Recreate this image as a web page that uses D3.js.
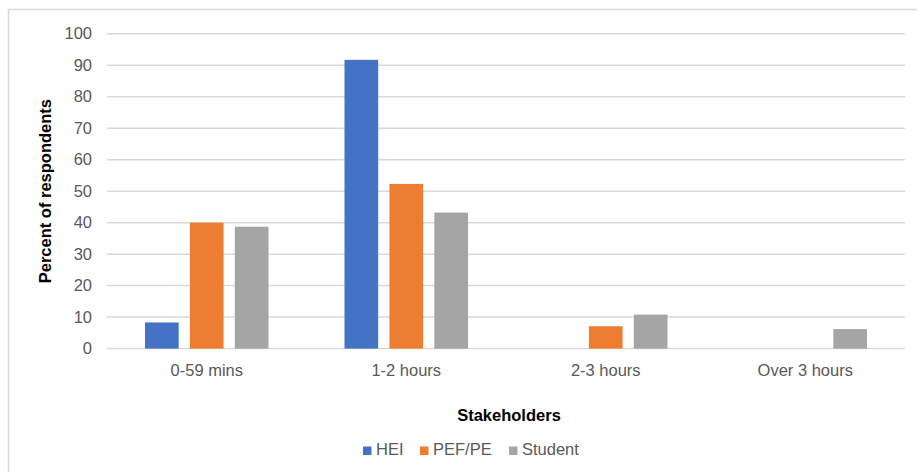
<!DOCTYPE html>
<html>
<head>
<meta charset="utf-8">
<script src="https://cdn.jsdelivr.net/npm/d3@7"></script>
<style>
  body { margin: 0; background: #fff; }
  svg text { font-family: 'Liberation Sans', Arial, sans-serif; }
</style>
</head>
<body>
<figure id="bar" style="margin:0"></figure>
<script>
// data
const categories = ['0-59 mins', '1-2 hours', '2-3 hours', 'Over 3 hours'];
const seriesNames = ['HEI', 'PEF/PE', 'Student'];
const hei = [8.3, 91.7, 0, 0];
const pef = [40, 52.3, 7.1, 0];
const student = [38.7, 43.2, 10.8, 6.2];
const yTicks = [0, 10, 20, 30, 40, 50, 60, 70, 80, 90, 100];
const colors = ['#4472C4', '#ED7D31', '#A5A5A5'];

const width = 917;
const height = 472;
const plot = { left: 107, right: 905, top: 33.7, bottom: 348.6 };
const textColor = '#595959';

const svg = d3
  .select('figure#bar')
  .append('svg')
  .attr('width', width)
  .attr('height', height);

// chart area border (only top and left edges are inside the frame)
svg.append('rect')
  .attr('x', 8.5)
  .attr('y', 9.5)
  .attr('width', width + 10)
  .attr('height', height + 10)
  .attr('fill', 'none')
  .attr('stroke', '#D9D9D9')
  .attr('stroke-width', 1.5);

const x0 = d3.scaleBand()
  .domain(categories)
  .range([plot.left, plot.right])
  .paddingInner(0)
  .paddingOuter(0);

const x1 = d3.scaleBand()
  .domain(seriesNames)
  .range([38, x0.bandwidth() - 38])
  .paddingInner(0.25);

const y = d3.scaleLinear()
  .domain([0, 100])
  .range([plot.bottom, plot.top]);

// gridlines
svg.append('g')
  .attr('class', 'grid')
  .selectAll('line')
  .data(yTicks)
  .enter()
  .append('line')
  .attr('x1', plot.left)
  .attr('x2', plot.right)
  .attr('y1', (d) => y(d))
  .attr('y2', (d) => y(d))
  .attr('stroke', '#D9D9D9')
  .attr('stroke-width', 1.5);

// y axis labels
const yAxis = svg.append('g')
  .attr('class', 'y-axis')
  .attr('transform', 'translate(' + (plot.left - 15) + ',0)')
  .call(d3.axisLeft(y).tickValues(yTicks).tickSize(0).tickPadding(0));
yAxis.select('.domain').remove();
yAxis.selectAll('text')
  .attr('fill', textColor)
  .style('font-size', '16.5px')
  .style('font-family', "'Liberation Sans', Arial, sans-serif");

// bars
const table = seriesNames.map((name, i) => ({
  name: name,
  values: [hei, pef, student][i]
}));

const groups = svg.append('g')
  .selectAll('g')
  .data(categories)
  .enter()
  .append('g')
  .attr('transform', (d) => 'translate(' + x0(d) + ',0)');

groups.selectAll('rect')
  .data((d, ci) => table.map((s, si) => ({ name: s.name, value: s.values[ci], si: si })))
  .enter()
  .append('rect')
  .attr('x', (d) => x1(d.name))
  .attr('width', x1.bandwidth())
  .attr('y', (d) => y(d.value))
  .attr('height', (d) => y(0) - y(d.value))
  .attr('fill', (d) => colors[d.si]);

// x axis labels
const xAxis = svg.append('g')
  .attr('class', 'x-axis')
  .attr('transform', 'translate(0,' + plot.bottom + ')')
  .call(d3.axisBottom(x0).tickSize(0).tickPadding(0));
xAxis.select('.domain').remove();
xAxis.selectAll('text')
  .attr('dy', null)
  .attr('y', 27.5)
  .attr('fill', textColor)
  .style('font-size', '16.5px')
  .style('font-family', "'Liberation Sans', Arial, sans-serif");

// axis titles
svg.append('text')
  .attr('x', (plot.left + plot.right) / 2 + 3)
  .attr('y', 421)
  .attr('text-anchor', 'middle')
  .attr('font-weight', 'bold')
  .attr('font-size', '16.5px')
  .attr('fill', '#000')
  .text('Stakeholders');

svg.append('text')
  .attr('transform', 'translate(51,' + (plot.top + plot.bottom) / 2 + ')rotate(-90)')
  .attr('text-anchor', 'middle')
  .attr('font-weight', 'bold')
  .attr('font-size', '16.5px')
  .attr('fill', '#000')
  .text('Percent of respondents');

// legend
const legendX = [363, 420, 509];
const legend = svg.append('g')
  .selectAll('g')
  .data(seriesNames)
  .enter()
  .append('g')
  .attr('transform', (d, i) => 'translate(' + legendX[i] + ',446.5)');

legend.append('rect')
  .attr('width', 8.5)
  .attr('height', 8.5)
  .attr('fill', (d, i) => colors[i]);

legend.append('text')
  .attr('x', 13)
  .attr('y', 8.7)
  .attr('fill', textColor)
  .attr('font-size', '16.5px')
  .text((d) => d);
</script>
</body>
</html>
